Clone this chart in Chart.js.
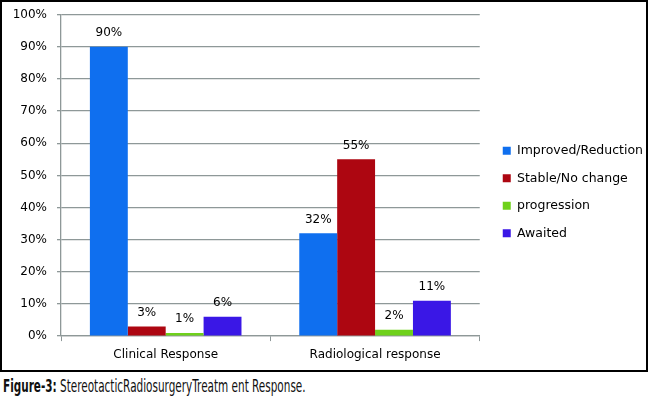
<!DOCTYPE html>
<html>
<head>
<meta charset="utf-8">
<script src="https://cdn.jsdelivr.net/npm/chart.js@4.4.1/dist/chart.umd.min.js"></script>
<style>
  html, body { margin: 0; padding: 0; background: #fff; }
  #box {
    position: absolute; left: 0; top: 0;
    width: 644px; height: 368px;
    border: 2px solid #000;
  }
  #caption {
    position: absolute; left: 3px; top: 376px;
    font-family: "DejaVu Sans", sans-serif;
    font-size: 17px; color: #111; white-space: nowrap;
    transform: scaleX(0.615); transform-origin: left top;
  }
  #caption b { font-weight: bold; }
</style>
</head>
<body>
<div id="box"><canvas id="responseChart" width="644" height="368"></canvas></div>
<div id="caption"><b>Figure-3:</b> StereotacticRadiosurgeryTreatm ent Response.</div>

<script>
// categories and series (percent)
const categories = ["Clinical Response", "Radiological response"];
const improved = [90, 32];
const stable = [3, 55];
const progression = [1, 2];
const awaited = [6, 11];
const yTicks = [0, 10, 20, 30, 40, 50, 60, 70, 80, 90, 100];

const seriesNames = ["Improved/Reduction", "Stable/No change", "progression", "Awaited"];
const seriesColors = ["#0f6fef", "#ad0611", "#6fd11b", "#3a17e6"];

// value labels above each bar
const barLabels = {
  id: "barLabels",
  afterDatasetsDraw(chart) {
    const ctx = chart.ctx;
    ctx.save();
    ctx.font = "12px 'DejaVu Sans'";
    ctx.fillStyle = "#000";
    ctx.textAlign = "center";
    ctx.textBaseline = "alphabetic";
    chart.data.datasets.forEach((ds, i) => {
      const meta = chart.getDatasetMeta(i);
      meta.data.forEach((bar, j) => {
        ctx.fillText(ds.data[j] + "%", bar.x, bar.y - 10.5);
      });
    });
    ctx.restore();
  },
};

// legend sits a bit further from the plot than chart.js puts it
const legendGap = {
  id: "legendGap",
  afterLayout(chart) {
    chart.legend.left += 8;
    chart.legend.right += 8;
  },
};

const allSeries = [improved, stable, progression, awaited];

new Chart(document.getElementById("responseChart"), {
  type: "bar",
  data: {
    labels: categories,
    datasets: allSeries.map((vals, i) => ({
      label: seriesNames[i],
      data: vals,
      backgroundColor: seriesColors[i],
      borderWidth: 0,
      barPercentage: 1,
      categoryPercentage: 0.724,
    })),
  },
  options: {
    responsive: false,
    animation: false,
    layout: { padding: { top: 12.7, right: 7, left: 0, bottom: 0.5 } },
    plugins: {
      tooltip: { enabled: false },
      legend: {
        position: "right",
        labels: {
          boxWidth: 8,
          boxHeight: 8,
          padding: 15,
          color: "#000",
          font: { family: "DejaVu Sans", size: 12.5 },
        },
      },
    },
    scales: {
      y: {
        min: 0,
        max: 100,
        afterBuildTicks: (scale) => {
          scale.ticks = yTicks.map((v) => ({ value: v }));
        },
        afterFit: (scale) => {
          scale.width = 59;
          scale.paddingTop = 0;
          scale.paddingBottom = 0;
        },
        ticks: {
          callback: (v) => v + "%",
          color: "#000",
          padding: 10,
          font: { family: "DejaVu Sans", size: 12 },
        },
        grid: { color: "#8e9898", lineWidth: 1.3, tickLength: 4 },
        border: { color: "#8e9898", width: 1.3 },
      },
      x: {
        ticks: {
          color: "#000",
          padding: 7,
          font: { family: "DejaVu Sans", size: 12 },
        },
        grid: {
          offset: true,
          drawOnChartArea: false,
          color: "#8e9898",
          tickLength: 5,
        },
        border: { color: "#8e9898", width: 1.3 },
      },
    },
  },
  plugins: [barLabels, legendGap],
});
</script>
</body>
</html>
